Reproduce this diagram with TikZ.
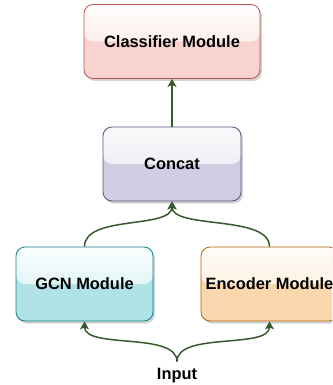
\documentclass[tikz,border=0pt]{standalone}
\usepackage{fontspec}
\setmainfont{Liberation Sans}
\usetikzlibrary{arrows.meta,shadows}
\definecolor{redfill}{HTML}{F8D3CF}
\definecolor{redline}{HTML}{B85450}
\definecolor{purfill}{HTML}{D0CEE2}
\definecolor{purline}{HTML}{56517E}
\definecolor{cyanfill}{HTML}{B0E3E6}
\definecolor{cyanline}{HTML}{0E8088}
\definecolor{orgfill}{HTML}{FAD7AC}
\definecolor{orgline}{HTML}{B46504}
\definecolor{arrgreen}{RGB}{55,90,45}
\tikzset{
  modbox/.style 2 args={rectangle, rounded corners=9pt, minimum height=74pt,
    fill=#1, draw=#2, line width=0.8pt,
    drop shadow={shadow xshift=2pt, shadow yshift=-2.5pt, opacity=0.35, fill=gray},
    path picture={\shade[top color=white!92!#1, bottom color=white!40!#1]
      (path picture bounding box.north west) rectangle (path picture bounding box.east);},
    font=\fontsize{16.4}{19}\selectfont\bfseries, text=black, inner sep=0pt},
  arr/.style={draw=arrgreen, line width=1.5pt, -{Stealth[length=8pt,width=9pt,inset=2pt]}},
  lbl/.style={font=\fontsize{16.4}{19}\selectfont\bfseries, text=black, inner sep=6pt}
}
\begin{document}
\begin{tikzpicture}[x=1pt,y=-1pt]
\useasboundingbox (0,0) rectangle (332,385);
\clip (0,0) rectangle (332,385);
\node[modbox={redfill}{redline}, minimum width=176pt] (cls) at (172,41.5) {Classifier Module};
\node[modbox={purfill}{purline}, minimum width=138pt] (cat) at (172,164) {Concat};
\node[modbox={cyanfill}{cyanline}, minimum width=137pt] (gcn) at (84.5,284) {GCN Module};
\node[modbox={orgfill}{orgline}, minimum width=137pt] (enc) at (269.5,284) {Encoder Module};
\node[lbl, anchor=base] (inp) at (177,379) {Input};
\draw[arr] (cat.north) -- (cls.south);
\draw[arr] (gcn.north) .. controls +(0,-32) and +(0,28) .. (cat.south);
\draw[arr] (enc.north) .. controls +(0,-32) and +(0,28) .. (cat.south);
\draw[arr] (inp.north) .. controls +(0,-30) and +(0,28) .. (gcn.south);
\draw[arr] (inp.north) .. controls +(0,-30) and +(0,28) .. (enc.south);
\end{tikzpicture}
\end{document}
